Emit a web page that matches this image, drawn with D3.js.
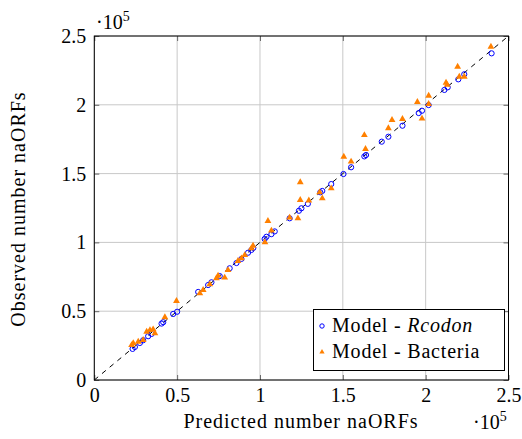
<!DOCTYPE html>
<html>
<head>
<meta charset="utf-8">
<script src="https://cdn.jsdelivr.net/npm/d3@7"></script>
<style>
  html, body { margin: 0; padding: 0; background: #fff; }
  svg text { font-family: "Liberation Serif", "Times New Roman", Times, "DejaVu Serif", serif !important; fill: #000; }
</style>
</head>
<body>
<svg id="chart" width="522" height="439"></svg>
<script>
// Values in thousands of naORFs (axis shows ×10^5)
const rcodonX = [23.1, 24.5, 27.5, 29.5, 32.5, 34.6, 40.6, 41.6, 47.6, 50.0,
  62.7, 68.7, 70.7, 75.7, 81.7, 85.8, 88.8, 92.8, 94.8, 96.0,
  102.8, 103.9, 106.9, 108.9,
  117.9, 123.5, 125.0, 128.9, 136.4, 137.6, 143.0, 150.4, 155.0, 163.0, 164.0,
  173.5, 177.5, 186.0, 195.8, 197.8, 201.8, 211.3, 213.3, 219.7, 223.3, 239.8];
const rcodonY = [22.6, 24.0, 26.9, 28.9, 31.8, 33.5, 41.0, 42.0, 48.0, 49.6,
  64.0, 69.0, 71.0, 75.5, 81.2, 85.0, 88.0, 92.5, 94.5, 96.0,
  102.5, 104.1, 106.0, 108.0,
  117.5, 123.0, 124.8, 128.0, 136.4, 137.4, 142.4, 149.7, 154.6, 162.5, 163.5,
  173.2, 176.8, 184.8, 194.0, 195.7, 199.8, 210.8, 212.7, 218.5, 222.2, 237.4];

const bacteriaX = [22.5, 23.5, 26.5, 29.5, 31.6, 33.6, 35.5, 36.6, 42.6, 49.6,
  63.7, 65.7, 69.7, 73.7, 74.7, 78.7, 80.7, 86.7, 88.8, 90.8, 94.8, 95.8,
  103.0, 104.8, 106.9, 117.9, 122.9, 124.3, 124.3, 129.5, 136.0, 137.6, 143.0,
  150.6, 155.0, 163.0, 163.7, 177.5, 179.7, 186.0, 195.0, 197.8, 201.8, 201.8,
  212.3, 213.0, 219.3, 220.3, 223.3, 239.4];
const bacteriaY = [25.4, 26.7, 27.8, 29.1, 35.1, 36.3, 36.8, 33.9, 45.6, 57.4,
  63.0, 65.4, 69.5, 73.9, 75.8, 74.4, 79.9, 86.5, 88.4, 90.8, 95.7, 97.6,
  100.0, 115.6, 108.6, 118.0, 117.5, 143.7, 130.8, 130.5, 136.4, 132.0, 139.3,
  162.3, 158.7, 178.0, 167.9, 183.0, 189.0, 189.7, 202.0, 190.0, 206.6, 200.6,
  216.0, 214.5, 227.7, 220.4, 220.4, 242.2];

const tickValues = [0, 50, 100, 150, 200, 250];
const tickLabels = ["0", "0.5", "1", "1.5", "2", "2.5"];
const seriesNames = ["Model - ", "Model - Bacteria"];

const svg = d3.select("#chart");
const pLeft = 94.3, pRight = 508.5, pTop = 36, pBottom = 380;

const x = d3.scaleLinear().domain([0, 250]).range([pLeft, pRight]);
const y = d3.scaleLinear().domain([0, 250]).range([pBottom, pTop]);

// grid
const grid = svg.append("g");
tickValues.forEach(v => {
  grid.append("line").attr("x1", x(v)).attr("x2", x(v)).attr("y1", pTop).attr("y2", pBottom)
    .attr("stroke", "#c8c8c8").attr("stroke-width", 1);
  grid.append("line").attr("y1", y(v)).attr("y2", y(v)).attr("x1", pLeft).attr("x2", pRight)
    .attr("stroke", "#c8c8c8").attr("stroke-width", 1);
});

// axes via d3 (ticks inward)
const fmt = (d, i) => tickLabels[i];
const xAxis = svg.append("g").attr("transform", `translate(0,${pBottom})`)
  .call(d3.axisBottom(x).tickValues(tickValues).tickFormat(fmt).tickSizeInner(-5).tickSizeOuter(0).tickPadding(8));
const yAxis = svg.append("g").attr("transform", `translate(${pLeft},0)`)
  .call(d3.axisLeft(y).tickValues(tickValues).tickFormat(fmt).tickSizeInner(-5).tickSizeOuter(0).tickPadding(8));
const xTop = svg.append("g").attr("transform", `translate(0,${pTop})`)
  .call(d3.axisTop(x).tickValues(tickValues).tickFormat("").tickSizeInner(-5).tickSizeOuter(0));
const yRight = svg.append("g").attr("transform", `translate(${pRight},0)`)
  .call(d3.axisRight(y).tickValues(tickValues).tickFormat("").tickSizeInner(-5).tickSizeOuter(0));
[xAxis, yAxis, xTop, yRight].forEach(a => {
  a.attr("font-family", null).attr("font-size", null);
  a.select(".domain").remove();
  a.selectAll(".tick line").attr("stroke", "#666");
  a.selectAll("text").attr("font-size", 20).attr("fill", "#000");
});

// frame
svg.append("rect").attr("x", pLeft).attr("y", pTop).attr("width", pRight - pLeft).attr("height", pBottom - pTop)
  .attr("fill", "none").attr("stroke", "#000").attr("stroke-width", 1);

// diagonal
svg.append("line").attr("x1", x(0)).attr("y1", y(0)).attr("x2", x(250)).attr("y2", y(250))
  .attr("stroke", "#000").attr("stroke-width", 1).attr("stroke-dasharray", "5,5");

// Rcodon circles
svg.append("g").selectAll("circle").data(rcodonX.map((d, i) => [d, rcodonY[i]])).join("circle")
  .attr("cx", d => x(d[0])).attr("cy", d => y(d[1])).attr("r", 2.6)
  .attr("fill", "none").attr("stroke", "#0000ff").attr("stroke-width", 1);

// Bacteria triangles
const tri = d3.symbol().type(d3.symbolTriangle).size(20);
svg.append("g").selectAll("path").data(bacteriaX.map((d, i) => [d, bacteriaY[i]])).join("path")
  .attr("d", tri).attr("transform", d => `translate(${x(d[0])},${y(d[1])})`)
  .attr("fill", "#ff8000");

// exponent labels
const e1 = svg.append("text").attr("x", 96).attr("y", 29).attr("font-size", 20);
e1.append("tspan").text("·10");
e1.append("tspan").attr("font-size", 14).attr("dy", -8).text("5");
const e2 = svg.append("text").attr("x", 473).attr("y", 429).attr("font-size", 20);
e2.append("tspan").text("·10");
e2.append("tspan").attr("font-size", 14).attr("dy", -8).text("5");

// axis titles
svg.append("text").attr("x", 301).attr("y", 428).attr("text-anchor", "middle")
  .attr("font-size", 20).attr("letter-spacing", 1).text("Predicted number naORFs");
svg.append("text").attr("transform", "translate(25,209) rotate(-90)").attr("text-anchor", "middle")
  .attr("font-size", 20).attr("letter-spacing", 1).text("Observed number naORFs");

// legend
const lg = svg.append("g");
lg.append("rect").attr("x", 313.5).attr("y", 309.5).attr("width", 191).attr("height", 61)
  .attr("fill", "#fff").attr("stroke", "#000").attr("stroke-width", 1);
lg.append("circle").attr("cx", 322).attr("cy", 326).attr("r", 2.2)
  .attr("fill", "none").attr("stroke", "#0000ff").attr("stroke-width", 1);
lg.append("path").attr("d", d3.symbol().type(d3.symbolTriangle).size(12))
  .attr("transform", "translate(322,352)").attr("fill", "#ff8000");
const t1 = lg.append("text").attr("x", 332).attr("y", 332).attr("font-size", 20).attr("letter-spacing", 0.8);
t1.append("tspan").text(seriesNames[0]);
t1.append("tspan").attr("font-style", "italic").text("Rcodon");
lg.append("text").attr("x", 332).attr("y", 358).attr("font-size", 20).attr("letter-spacing", 0.8).text(seriesNames[1]);
</script>
</body>
</html>
